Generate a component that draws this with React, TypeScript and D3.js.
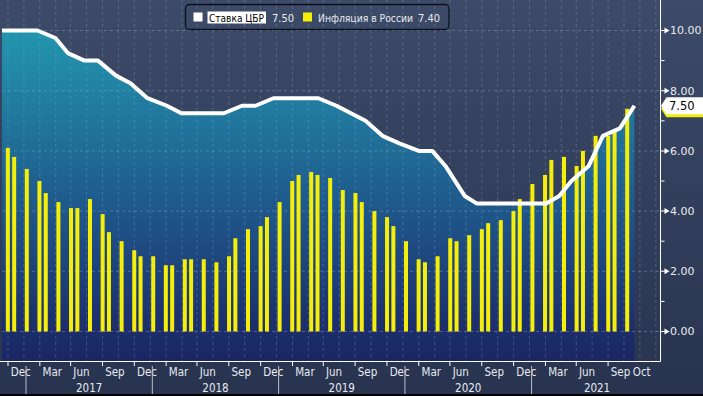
import React from "react";
import * as d3 from "d3";

const W = 703;
const H = 396;

// CBR key rate: meeting / effective dates and rate
const rateDates = [
  "2016-09-19", "2016-10-28", "2016-12-16", "2017-02-03", "2017-03-27", "2017-05-02",
  "2017-06-19", "2017-07-28", "2017-09-18", "2017-10-30", "2017-12-18", "2018-02-12",
  "2018-03-26", "2018-04-27", "2018-06-15", "2018-07-27", "2018-09-17", "2018-10-26",
  "2018-12-17", "2019-02-08", "2019-03-22", "2019-04-26", "2019-06-17", "2019-07-29",
  "2019-09-09", "2019-10-28", "2019-12-16", "2020-02-10", "2020-03-20", "2020-04-27",
  "2020-06-22", "2020-07-27", "2020-09-18", "2020-10-23", "2020-12-18", "2021-02-12",
  "2021-03-22", "2021-04-26", "2021-06-15", "2021-07-26", "2021-09-13", "2021-10-25",
];
const rateValues = [
  10.0, 10.0, 10.0, 10.0, 9.75, 9.25,
  9.0, 9.0, 8.5, 8.25, 7.75, 7.5,
  7.25, 7.25, 7.25, 7.25, 7.5, 7.5,
  7.75, 7.75, 7.75, 7.75, 7.5, 7.25,
  7.0, 6.5, 6.25, 6.0, 6.0, 5.5,
  4.5, 4.25, 4.25, 4.25, 4.25, 4.25,
  4.5, 5.0, 5.5, 6.5, 6.75, 7.5,
];

// Inflation in Russia, monthly (y/y)
const cpiMonths = [
  "2016-10", "2016-11", "2016-12",
  "2017-01", "2017-02", "2017-03", "2017-04", "2017-05", "2017-06", "2017-07", "2017-08", "2017-09", "2017-10", "2017-11", "2017-12",
  "2018-01", "2018-02", "2018-03", "2018-04", "2018-05", "2018-06", "2018-07", "2018-08", "2018-09", "2018-10", "2018-11", "2018-12",
  "2019-01", "2019-02", "2019-03", "2019-04", "2019-05", "2019-06", "2019-07", "2019-08", "2019-09", "2019-10", "2019-11", "2019-12",
  "2020-01", "2020-02", "2020-03", "2020-04", "2020-05", "2020-06", "2020-07", "2020-08", "2020-09", "2020-10", "2020-11", "2020-12",
  "2021-01", "2021-02", "2021-03", "2021-04", "2021-05", "2021-06", "2021-07", "2021-08", "2021-09",
];
const cpiValues = [
  6.1, 5.8, 5.4,
  5.0, 4.6, 4.3, 4.1, 4.1, 4.4, 3.9, 3.3, 3.0, 2.7, 2.5, 2.5,
  2.2, 2.2, 2.4, 2.4, 2.4, 2.3, 2.5, 3.1, 3.4, 3.5, 3.8, 4.3,
  5.0, 5.2, 5.3, 5.2, 5.1, 4.7, 4.6, 4.3, 4.0, 3.8, 3.5, 3.0,
  2.4, 2.3, 2.5, 3.1, 3.0, 3.2, 3.4, 3.6, 3.7, 4.0, 4.4, 4.9,
  5.2, 5.7, 5.8, 5.5, 6.0, 6.5, 6.5, 6.7, 7.4,
];

const yTicks = [0, 2, 4, 6, 8, 10];
const yMinorTicks = [1, 3, 5, 7, 9];
const axisMonths = [
  "2016-12", "2017-03", "2017-06", "2017-09", "2017-12", "2018-03", "2018-06", "2018-09",
  "2018-12", "2019-03", "2019-06", "2019-09", "2019-12", "2020-03", "2020-06", "2020-09",
  "2020-12", "2021-03", "2021-06", "2021-09", "2021-10",
];
const axisMonthLabels = [
  "Dec", "Mar", "Jun", "Sep", "Dec", "Mar", "Jun", "Sep",
  "Dec", "Mar", "Jun", "Sep", "Dec", "Mar", "Jun", "Sep",
  "Dec", "Mar", "Jun", "Sep", "Oct",
];
const yearLabels = ["2017", "2018", "2019", "2020", "2021"];
const seriesNames = ["Ставка ЦБР", "Инфляция в России"];

const FONT = "'DejaVu Sans Condensed', 'DejaVu Sans', sans-serif";
const NUMFONT = "'DejaVu Sans', sans-serif";
const plotLeft = 2;
const plotRight = 660.5;
const plotBottom = 361.5;

export default function App() {
  const pDay = d3.timeParse("%Y-%m-%d");
  const pMonth = d3.timeParse("%Y-%m");

  const x = d3
    .scaleTime()
    .domain([new Date(2017, 0, 1), new Date(2021, 0, 1)])
    .range([26, 26 + 4 * 126.4]);
  const y = d3.scaleLinear().domain([0, 10]).range([331.5, 30.5]);

  const rate = rateDates.map((d, i) => ({ date: pDay(d) as Date, v: rateValues[i] }));

  const line = d3
    .line<{ date: Date; v: number }>()
    .x((d) => x(d.date))
    .y((d) => y(d.v));
  const area = d3
    .area<{ date: Date; v: number }>()
    .x((d) => x(d.date))
    .y0(plotBottom)
    .y1((d) => y(d.v));

  // bars snapped into chart slots (20 per year), as the original terminal draws them
  const x2017 = x(new Date(2017, 0, 1));
  const slotPx = 126.4 / 20;
  const bars = cpiMonths.map((m, i) => {
    const start = pMonth(m) as Date;
    const end = d3.timeDay.offset(d3.timeMonth.offset(start, 1), -1);
    const raw = x(end);
    const k = Math.floor((raw - x2017) / slotPx + 0.49);
    return { cx: x2017 + 0.8 + k * slotPx, v: cpiValues[i] };
  });

  // month ticks
  const ticks = axisMonths.map((m, i) => {
    const d = pMonth(m) as Date;
    const tickDate = new Date(d.getFullYear(), d.getMonth() - 1, 10);
    return { tx: x(tickDate), label: axisMonthLabels[i] };
  });
  const labelW = 21;
  let prevEnd = -1e9;
  const tickLabels = ticks.map((t, i) => {
    const left = Math.max(t.tx + 2.7, prevEnd + 1);
    prevEnd = left + labelW;
    return { ...t, left, isLast: i === ticks.length - 1 };
  });

  // vertical grid: every quarter tick and mid-quarter
  const gridX: number[] = [];
  for (let q = 0; q <= 21; q++) {
    const d = d3.timeMonth.offset(new Date(2016, 10, 10), q * 3);
    gridX.push(x(d));
    gridX.push(x(d3.timeDay.offset(d, 46)));
  }

  const yearSeps = yearLabels.map((yl) => x(new Date(+yl, 0, 1)));
  const yearCenters = yearLabels.map((yl, i) => {
    const a = yearSeps[i];
    const b = i < yearLabels.length - 1 ? yearSeps[i + 1] : plotRight + 2;
    return (a + b) / 2;
  });

  const lastRate = rateValues[rateValues.length - 1];
  const lastCpi = cpiValues[cpiValues.length - 1];

  const tagPath = (cy: number) =>
    `M${plotRight + 0.5},${cy} L${plotRight + 6},${cy - 8.5} H${W} V${cy + 8.5} H${plotRight + 6} Z`;

  return (
    <svg
      width={W}
      height={H}
      style={{ position: "absolute", left: 0, top: 0, display: "block" }}
      fontFamily={FONT}
    >
      <defs>
        <linearGradient id="bg" x1="0" y1="0" x2="0" y2={H} gradientUnits="userSpaceOnUse">
          <stop offset="0" stopColor="#3d4b68" />
          <stop offset="1" stopColor="#28334f" />
        </linearGradient>
        <linearGradient id="areaFill" x1="0" y1="30" x2="0" y2={plotBottom} gradientUnits="userSpaceOnUse">
          <stop offset="0" stopColor="#2296ae" />
          <stop offset="0.5" stopColor="#1f5c8e" />
          <stop offset="0.9" stopColor="#1c2e6b" />
          <stop offset="1" stopColor="#1b2664" />
        </linearGradient>
        <clipPath id="plotClip">
          <rect x={plotLeft} y={0} width={plotRight - plotLeft} height={plotBottom} />
        </clipPath>
      </defs>

      <rect x={0} y={0} width={W} height={H} fill="url(#bg)" />

      <g clipPath="url(#plotClip)">
        <path d={area(rate) || ""} fill="url(#areaFill)" />
        {yTicks.map((t) => (
          <line
            key={"hg" + t}
            x1={plotLeft}
            x2={plotRight}
            y1={y(t)}
            y2={y(t)}
            stroke="#8fb3d6"
            strokeOpacity={0.38}
            strokeDasharray="3,3"
          />
        ))}
        {gridX.map((gx, i) => (
          <line
            key={"vg" + i}
            x1={gx}
            x2={gx}
            y1={0}
            y2={plotBottom}
            stroke="#8fb3d6"
            strokeOpacity={0.3}
            strokeDasharray="3,3"
          />
        ))}
        {bars.map((b, i) => (
          <rect
            key={"b" + i}
            x={b.cx - 2}
            width={4}
            y={y(b.v)}
            height={y(0) - y(b.v)}
            fill="#f4ee0a"
          />
        ))}
        <path
          d={line(rate) || ""}
          fill="none"
          stroke="#ffffff"
          strokeWidth={4}
          strokeLinejoin="round"
          strokeLinecap="butt"
        />
      </g>

      <line x1={plotRight} x2={plotRight} y1={0} y2={plotBottom} stroke="#ffffff" strokeWidth={1} />
      <line x1={0} x2={plotRight} y1={plotBottom} y2={plotBottom} stroke="#ffffff" strokeWidth={1} />

      {yMinorTicks.map((t) => (
        <line key={"mt" + t} x1={plotRight} x2={plotRight + 4} y1={y(t)} y2={y(t)} stroke="#ffffff" />
      ))}
      {yTicks.map((t) => (
        <g key={"yt" + t}>
          <path
            d={`M${plotRight},${y(t) - 0.5} L${plotRight + 4},${y(t) - 0.5} L${plotRight + 4},${y(t) - 3} L${plotRight + 9},${y(t)} L${plotRight + 4},${y(t) + 3} L${plotRight + 4},${y(t) + 0.5} L${plotRight},${y(t) + 0.5} Z`}
            fill="#ffffff"
          />
          <text x={670} y={y(t)} dy="0.36em" fontSize={11} fill="#e8eaee" fontFamily={NUMFONT}>
            {t.toFixed(2)}
          </text>
        </g>
      ))}

      <path d={tagPath(y(lastCpi))} fill="#f4ee0a" />
      <path d={tagPath(y(lastRate))} fill="#ffffff" />
      <text x={669} y={y(lastRate)} dy="0.36em" fontSize={11.5} fill="#000000" fontFamily={NUMFONT}>
        {lastRate.toFixed(2)}
      </text>

      {tickLabels.map((t, i) => (
        <g key={"xt" + i}>
          {!t.isLast && (
            <line x1={t.tx} x2={t.tx} y1={plotBottom} y2={plotBottom + 4.5} stroke="#ffffff" />
          )}
          <text x={t.left} y={375.5} fontSize={11.5} fill="#e8eaee">
            {t.label}
          </text>
        </g>
      ))}
      {yearSeps.map((sx, i) => (
        <line key={"ys" + i} x1={sx} x2={sx} y1={366} y2={H} stroke="#b9c0cc" strokeWidth={1} />
      ))}
      {yearLabels.map((yl, i) => (
        <text key={"yl" + i} x={yearCenters[i]} y={391.5} fontSize={11.5} fill="#e8eaee" textAnchor="middle">
          {yl}
        </text>
      ))}

      {/* legend */}
      <rect x={185.5} y={4.5} width={263.5} height={25} rx={4} fill="none" stroke="#0c111c" strokeWidth={1.3} />
      <rect x={193.5} y={12.5} width={9} height={9} fill="#ffffff" />
      <rect x={207.5} y={11.5} width={58.5} height={12} fill="#ffffff" />
      <text x={209} y={21.5} fontSize={11} fill="#000000" textLength={55} lengthAdjust="spacingAndGlyphs">
        {seriesNames[0]}
      </text>
      <text x={272} y={21.5} fontSize={11} fill="#e8eaee">
        {lastRate.toFixed(2)}
      </text>
      <rect x={303} y={12.5} width={9} height={9} fill="#f4ee0a" />
      <text x={318} y={21.5} fontSize={11} fill="#e8eaee" textLength={95} lengthAdjust="spacingAndGlyphs">
        {seriesNames[1]}
      </text>
      <text x={418} y={21.5} fontSize={11} fill="#e8eaee">
        {lastCpi.toFixed(2)}
      </text>

      <rect x={0} y={394} width={W} height={2} fill="#000000" />
    </svg>
  );
}
